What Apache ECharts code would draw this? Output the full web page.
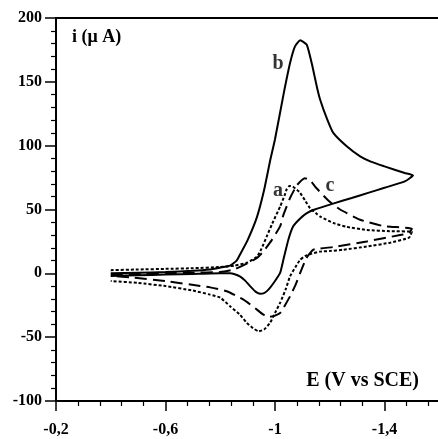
<!DOCTYPE html>
<html>
<head>
<meta charset="utf-8">
<script src="https://cdn.jsdelivr.net/npm/echarts@6/dist/echarts.min.js"></script>
<style>html,body{margin:0;padding:0;background:#fff}#c{width:438px;height:439px}</style>
</head>
<body>
<div id="c"></div>
<script>
// Curve a (dotted): potential E (V vs SCE) and current i (µA)
const aE = [-0.40,-0.50,-0.60,-0.70,-0.80,-0.85,-0.90,-0.934,-0.95,-0.97,-0.99,-1.019,-1.035,-1.043,-1.053,-1.065,-1.08,-1.092,-1.11,-1.128,-1.15,-1.165,-1.212,-1.26,-1.335,-1.42,-1.50,
            -1.49,-1.42,-1.335,-1.25,-1.20,-1.165,-1.128,-1.11,-1.092,-1.075,-1.055,-1.04,-1.019,-1.0,-0.982,-0.96,-0.94,-0.92,-0.897,-0.87,-0.836,-0.80,-0.763,-0.70,-0.60,-0.50,-0.40];
const aI = [2.5,3,3.5,4,5,6,8.5,13,19,29,39,52.5,61,66,68.5,68,65.5,63,57,51,47,44.5,39.5,36.5,34,33,32.5,
            28,24,21,18.5,17.5,17,15,13.5,10.7,5,-2.3,-12,-23,-31,-38.8,-44,-45.4,-43,-38.8,-32,-25.8,-19,-16.7,-13.5,-10,-7.5,-6];
// Curve b (solid)
const bE = [-0.40,-0.50,-0.60,-0.70,-0.76,-0.80,-0.836,-0.86,-0.873,-0.90,-0.934,-0.96,-0.982,-1.00,-1.031,-1.055,-1.073,-1.092,-1.116,-1.134,-1.153,-1.165,-1.19,-1.213,-1.262,-1.311,-1.35,-1.40,-1.474,-1.504,
            -1.474,-1.40,-1.34,-1.28,-1.218,-1.145,-1.115,-1.092,-1.067,-1.049,-1.031,-1.019,-1.0,-0.976,-0.96,-0.946,-0.93,-0.909,-0.89,-0.873,-0.85,-0.836,-0.80,-0.70,-0.60,-0.50,-0.40];
const bI = [0,0.5,1,2,3,4.5,6,10,15,26,44,65,88,105,140,164.7,177.8,182.5,179,164.7,146,136,121,110,99.5,91.6,87.5,83.8,78.6,76.7,
            72,67,63,59,55,50,47,43,37,26.5,11,0.5,-6,-12.8,-15.5,-16,-14.5,-10,-5.5,-2.5,-0.5,0,0,-0.5,-1,-1.5,-2];
// Curve c (dashed)
const cE = [-0.40,-0.50,-0.60,-0.70,-0.80,-0.85,-0.90,-0.934,-0.957,-0.988,-1.019,-1.031,-1.055,-1.08,-1.109,-1.128,-1.15,-1.20,-1.238,-1.311,-1.396,-1.50,
            -1.49,-1.457,-1.335,-1.213,-1.14,-1.115,-1.092,-1.075,-1.055,-1.019,-0.995,-0.976,-0.955,-0.934,-0.885,-0.824,-0.763,-0.727,-0.60,-0.483,-0.40];
const cI = [-1,-0.5,0,0.5,1,3,8,12,17,26,37,46,59,69,74.5,73,67,56,50,42,37,35,
            31.5,30,25,20.6,18.5,12,0.3,-9,-18,-31,-33.5,-34.2,-32,-28.4,-20.6,-14,-11,-9.9,-6,-3.4,-2];
// Curve annotations
const noteText = ['a','b','c'];
const noteE = [-1.011,-1.011,-1.201];
const noteI = [64.8,164,68.7];
// Axis ticks
const xMin = -1.8, xMax = -0.2, xStep = 0.4;
const yMin = -100, yMax = 200, yStep = 50;

const serif = "'Liberation Serif', 'DejaVu Serif', serif";
const pairs = (E, I) => E.map((e, k) => [e, I[k]]);

const chart = echarts.init(document.getElementById('c'), null, {renderer: 'canvas'});
chart.setOption({
  animation: false,
  backgroundColor: '#fff',
  grid: {left: 56, top: 18, width: 438, height: 383, containLabel: false, outerBoundsMode: 'none',
    show: true, borderColor: '#000', borderWidth: 2, backgroundColor: 'transparent'},
  xAxis: {
    type: 'value', min: xMin, max: xMax, interval: xStep, inverse: true,
    axisLine: {show: true, onZero: false, lineStyle: {color: '#000', width: 2}},
    axisTick: {show: true, inside: false, length: 10, lineStyle: {color: '#000', width: 1.5}},
    minorTick: {show: true, splitNumber: 5, length: 5, lineStyle: {color: '#000', width: 1.2}},
    splitLine: {show: false},
    axisLabel: {margin: 21, color: '#000', fontFamily: serif, fontWeight: 'bold', fontSize: 16,
      formatter: v => String(Math.round(v * 10) / 10).replace('.', ',')}
  },
  yAxis: {
    type: 'value', min: yMin, max: yMax, interval: yStep,
    axisLine: {show: true, onZero: false, lineStyle: {color: '#000', width: 2}},
    axisTick: {show: true, inside: false, length: 11, lineStyle: {color: '#000', width: 1.5}},
    minorTick: {show: true, splitNumber: 5, length: 5, lineStyle: {color: '#000', width: 1.2}},
    splitLine: {show: false},
    axisLabel: {margin: 14, color: '#000', fontFamily: serif, fontWeight: 'bold', fontSize: 16}
  },
  graphic: [
    {type: 'text', left: 72, top: 28, style: {text: 'i (\u03bc A)', fill: '#000', font: "bold 18px 'Liberation Serif', serif"}},
    {type: 'text', right: 19, top: 371, style: {text: 'E (V vs SCE)', fill: '#000', font: "bold 20px 'Liberation Serif', serif"}}
  ],
  series: [
    {type: 'line', name: 'a', data: pairs(aE, aI), showSymbol: false, smooth: 0.15,
      lineStyle: {color: '#000', width: 2, type: [3, 2]}},
    {type: 'line', name: 'b', data: pairs(bE, bI), showSymbol: false, smooth: 0.15,
      lineStyle: {color: '#000', width: 2}},
    {type: 'line', name: 'c', data: pairs(cE, cI), showSymbol: false, smooth: 0.15,
      lineStyle: {color: '#000', width: 2, type: [12, 6]}},
    {type: 'scatter', data: noteE.map((e, k) => [e, noteI[k], noteText[k]]), symbolSize: 0,
      label: {show: true, position: 'inside', formatter: p => p.data[2], color: '#000',
        fontFamily: serif, fontWeight: 'bold', fontSize: 20}}
  ]
});
</script>
</body>
</html>
